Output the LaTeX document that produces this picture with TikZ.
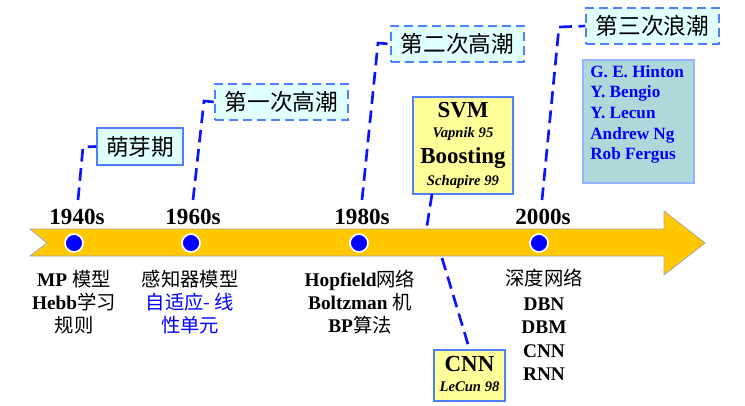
\documentclass[tikz,border=0pt]{standalone}
\usepackage{fontspec}
\setmainfont{Liberation Serif}
\newfontfamily\cjk{Noto Sans CJK SC}
\def\px{0.75pt}
\definecolor{gold}{HTML}{FFC800}
\definecolor{boxedge}{HTML}{4D7FFF}
\definecolor{cyanfill}{HTML}{E0FFFF}
\definecolor{yfill}{HTML}{FFFF99}
\definecolor{tealfill}{HTML}{AED8DA}
\definecolor{lineblue}{HTML}{0A14FF}
\tikzset{
  conn/.style={draw=lineblue, line width=2pt, dash pattern=on 9.5pt off 5pt},
  titlebox/.style={draw=boxedge, fill=cyanfill, line width=1.1pt, inner sep=0pt,
     font=\cjk\fontsize{17}{18}\selectfont},
  dashbox/.style={titlebox, dash pattern=on 7pt off 3.5pt},
  ybox/.style={draw=boxedge, fill=yfill, line width=1.1pt, inner sep=0pt},
  tdot/.style={circle, fill=blue, draw=white, line width=1.3pt, minimum size=18*\px, inner sep=0pt},
  yearlab/.style={font=\bfseries\fontsize{17.3}{18}\selectfont},
  lab/.style={font=\bfseries\fontsize{14.5}{16}\selectfont, inner sep=0pt, text height=10.5pt, text depth=3pt},
  cj/.style={font=\cjk\fontsize{14.5}{16}\selectfont, inner sep=0pt, text height=10.5pt, text depth=3pt},
  person/.style={font=\bfseries\fontsize{12.9}{14}\selectfont, text=blue, anchor=west, inner sep=0pt, text height=9pt, text depth=3pt},
  bigt/.style={font=\bfseries\fontsize{17.2}{20}\selectfont, inner sep=0pt, text height=12pt, text depth=4pt},
  smallt/.style={font=\bfseries\itshape\fontsize{11}{12}\selectfont, inner sep=0pt, text height=7.5pt, text depth=2.5pt},
}
\begin{document}
\begin{tikzpicture}[x=0.75pt,y=-0.75pt]
\useasboundingbox (0,0) rectangle (745,405);
% boxes
\node[titlebox, minimum width=86*\px, minimum height=37*\px] (b1) at (140,146.5) {萌芽期};
\node[dashbox, minimum width=133*\px, minimum height=36*\px] (b2) at (281.5,102) {第一次高潮};
\node[dashbox, minimum width=133*\px, minimum height=36*\px] (b3) at (457.5,44) {第二次高潮};
\node[dashbox, minimum width=133*\px, minimum height=36*\px] (b4) at (652.5,26) {第三次浪潮};
\node[draw=boxedge!60, fill=tealfill, line width=1pt, minimum width=111*\px, minimum height=123*\px] (nb) at (638.5,121.5) {};
\node[ybox, minimum width=100*\px, minimum height=97*\px] (svm) at (463,145.5) {};
\node[ybox, minimum width=71*\px, minimum height=51*\px] (cnn) at (469.5,375.5) {};
% connector anchors
\coordinate (c1) at (78,200);
\coordinate (k1) at (83,147);
\coordinate (c2) at (193,200);
\coordinate (k2) at (204,101);
\coordinate (c3) at (362,200);
\coordinate (k3) at (378,43);
\coordinate (c4) at (542,200);
\coordinate (k4) at (559,27);
\coordinate (s0) at (432,194);
\coordinate (s1) at (426,232);
\coordinate (s2) at (442,258);
\draw[conn] (c1) -- (k1) -- (b1.west);
\draw[conn] (c2) -- (k2) -- (b2.west);
\draw[conn] (c3) -- (k3) -- (b3.west);
\draw[conn] (c4) -- (k4) -- (b4.west);
\draw[conn] (s0) -- (s1);
\draw[conn] (s2) -- (cnn.north);
% timeline arrow
\path[fill=gold, draw=gray!70, line width=0.6pt]
  (30,229) -- (664,229) -- (664,211) -- (705,243) -- (664,275) -- (664,256) -- (30,256) -- (47,243) -- cycle;
\node[tdot] (d1) at (74,243) {};
\node[tdot] (d2) at (191,243) {};
\node[tdot] (d3) at (359,243) {};
\node[tdot] (d4) at (539,243) {};
\node[yearlab] (y1) at (77,217) {1940s};
\node[yearlab] (y2) at (193,217) {1960s};
\node[yearlab] (y3) at (362,217) {1980s};
\node[yearlab] (y4) at (543,217) {2000s};
% below texts
\node[lab] (t11) at (74,281) {MP {\cjk\mdseries 模型}};
\node[lab] (t12) at (74,304) {Hebb{\cjk\mdseries 学习}};
\node[cj] (t13) at (74,327) {规则};
\node[cj] (t21) at (190,281) {感知器模型};
\node[cj, text=blue] (t22) at (190,304) {自适应- 线};
\node[cj, text=blue] (t23) at (190,327) {性单元};
\node[lab] (t31) at (360,281) {Hopfield{\cjk\mdseries 网络}};
\node[lab] (t32) at (360,304) {Boltzman {\cjk\mdseries 机}};
\node[lab] (t33) at (360,327) {BP{\cjk\mdseries 算法}};
\node[cj] (t41) at (544,280) {深度网络};
\node[lab] (t42) at (544,305) {DBN};
\node[lab] (t43) at (544,328) {DBM};
\node[lab] (t44) at (544,352) {CNN};
\node[lab] (t45) at (544,375) {RNN};
% SVM box text
\node[bigt] (sv1) at (463,112) {SVM};
\node[smallt] (sv2) at (463,134) {Vapnik 95};
\node[bigt] (sv3) at (463,158) {Boosting};
\node[smallt] (sv4) at (463,182) {Schapire 99};
% CNN box text
\node[bigt] (cn1) at (469.5,366) {CNN};
\node[smallt] (cn2) at (469.5,388) {LeCun 98};
% names
\node[person] (n1) at (590,73) {G. E. Hinton};
\node[person] (n2) at (590,93) {Y. Bengio};
\node[person] (n3) at (590,114) {Y. Lecun};
\node[person] (n4) at (590,135) {Andrew Ng};
\node[person] (n5) at (590,155) {Rob Fergus};
\end{tikzpicture}
\end{document}
